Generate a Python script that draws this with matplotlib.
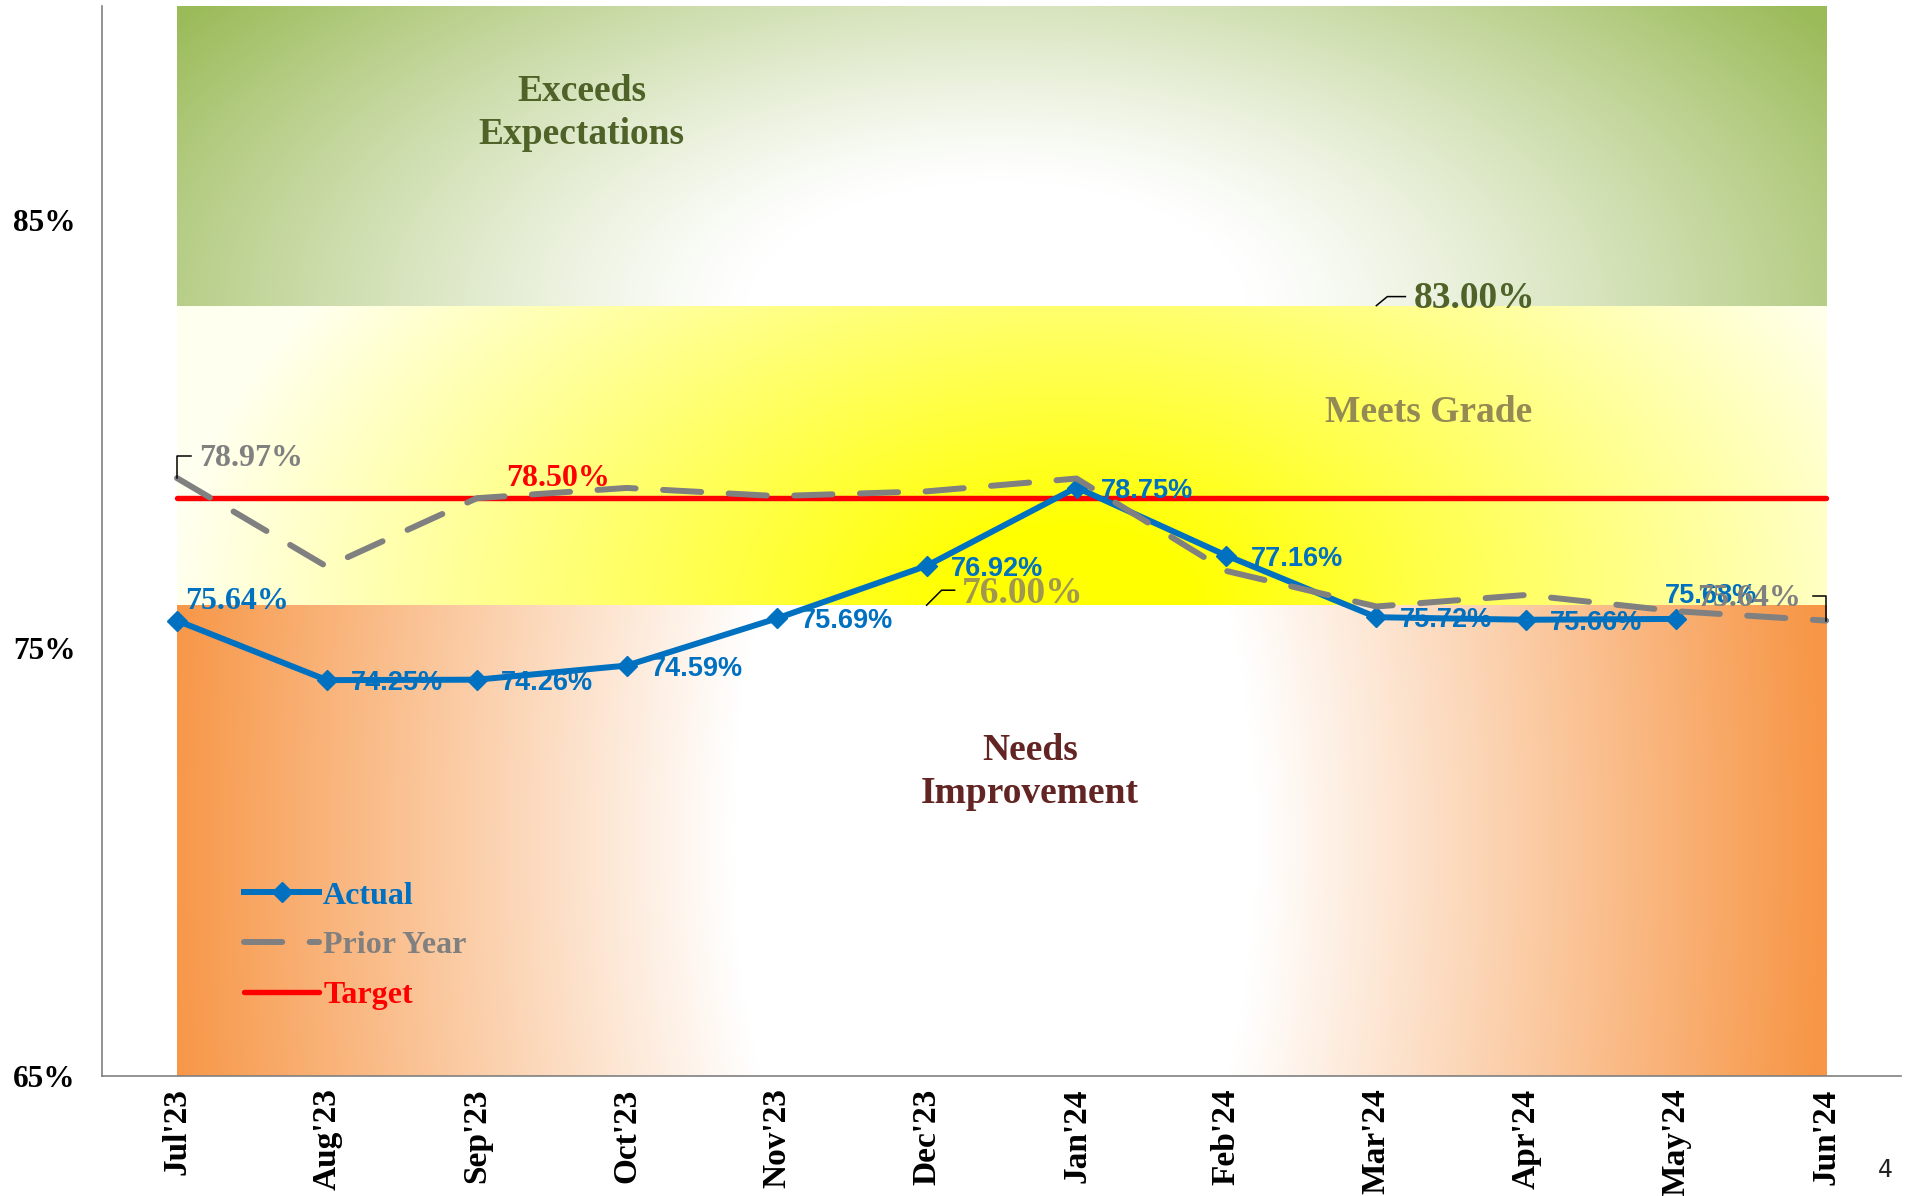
import numpy as np
import matplotlib
matplotlib.use("Agg")
import matplotlib.pyplot as plt
from matplotlib.colors import to_rgb

# dados
meses = ["Jul'23", "Aug'23", "Sep'23", "Oct'23", "Nov'23", "Dec'23",
         "Jan'24", "Feb'24", "Mar'24", "Apr'24", "May'24", "Jun'24"]
actual = [75.64, 74.25, 74.26, 74.59, 75.69, 76.92, 78.75, 77.16, 75.72, 75.66, 75.68]
prior_year = [78.97, 76.90, 78.50, 78.74, 78.55, 78.66, 78.96, 76.80, 75.97, 76.24, 75.86, 75.64]
target = 78.50
band_edges = [65, 76, 83, 90]
band_names = ["Needs\nImprovement", "Meets Grade", "Exceeds\nExpectations"]
y_ticks = [65, 75, 85]

SERIF = "Liberation Serif"
SANS = "Liberation Sans"
BLUE = "#0070C0"
GRAY = "#808080"
RED = "#FF0000"

fig = plt.figure(figsize=(19.11, 11.96), dpi=100)
ax = fig.add_axes([0.0534, 0.1003, 0.9414, 0.8947])
ax.set_xlim(-0.5, 11.5)
ax.set_ylim(65, 90)

x = np.arange(len(meses))
x0, x1 = x[0], x[-1]

# pixels por unidade de dados
ppx = ax.bbox.width / 12.0
ppy = ax.bbox.height / 25.0


def faixa(lo, hi, cx, cy, ky, r0, r1, inner, outer, gamma=1.0):
    xs = np.linspace(x0, x1, 800)
    ys = np.linspace(lo, hi, 300)
    X, Y = np.meshgrid(xs, ys)
    d = np.hypot((X - cx) * ppx, (Y - cy) * ppy * ky)
    t = np.clip((d - r0) / (r1 - r0), 0, 1) ** gamma
    a = np.array(to_rgb(inner))
    b = np.array(to_rgb(outer))
    img = a * (1 - t)[..., None] + b * t[..., None]
    ax.imshow(img, extent=(x0, x1, lo, hi), origin="lower", aspect="auto",
              zorder=0, interpolation="bilinear")


# faixas com gradiente radial
faixa(band_edges[0], band_edges[1], 5.45, 70.5, 0.5, 262, 830, "white", "#F79646")
faixa(band_edges[1], band_edges[2], 5.96, band_edges[1], 1.6, 120, 900, "#FFFF00", "#FFFFF0")
faixa(band_edges[2], band_edges[3], 5.47, band_edges[2], 2.0, 250, 1000, "white", "#9BBB59", 1.2)
ax.set_xlim(-0.5, 11.5)
ax.set_ylim(65, 90)

# linhas
ax.plot([x0, x1], [target, target], color=RED, lw=3.9, solid_capstyle="round",
        zorder=2, label="Target")
ax.plot(x[:len(actual)], actual, color=BLUE, lw=4.3, marker="D", ms=10,
        zorder=3, label="Actual")
ax.plot(x, prior_year, color=GRAY, lw=4.3, dashes=(6.4, 4.6),
        dash_capstyle="round", zorder=4, label="Prior Year")

PT = 0.72  # px -> pt


def rotulo(txt, xy, dx, dy, ha="left", **kw):
    ax.annotate(txt, xy=xy, xytext=(dx * PT, dy * PT), textcoords="offset points",
                ha=ha, va="center", zorder=6, **kw)


def leader(xy, offs):
    bx, by = ax.transData.transform(xy)
    pts = ax.transData.inverted().transform([(bx + a, by + b) for a, b in offs])
    ax.plot(pts[:, 0], pts[:, 1], color="black", lw=1.1, zorder=5)


# rótulos Actual
for i, v in enumerate(actual):
    if i == 0:
        rotulo(f"{v:.2f}%", (i, v), 8, 19, color=BLUE, fontsize=23,
               family=SERIF, fontweight="bold")
    elif i == len(actual) - 1:
        rotulo(f"{v:.2f}%", (i, v), -11, 23, color=BLUE, fontsize=19.5,
               family=SANS, fontweight="bold")
    else:
        rotulo(f"{v:.2f}%", (i, v), 24, -3, color=BLUE, fontsize=19.5,
               family=SANS, fontweight="bold")

# rótulos Prior Year (primeiro e último)
rotulo(f"{prior_year[0]:.2f}%", (0, prior_year[0]), 22, 20, color=GRAY,
       fontsize=23, family=SERIF, fontweight="bold")
leader((0, prior_year[0]), [(0, 0), (0, 22), (14, 22)])
rotulo(f"{prior_year[-1]:.2f}%", (x1, prior_year[-1]), -25, 22, ha="right",
       color=GRAY, fontsize=23, family=SERIF, fontweight="bold")
leader((x1, prior_year[-1]), [(0, 0), (0, 25), (-13, 25)])

# rótulo Target
rotulo(f"{target:.2f}%", (2, target), 29, 20, color=RED, fontsize=23,
       family=SERIF, fontweight="bold")

# rótulos das faixas
rotulo(f"{band_edges[1]:.2f}%", (5, band_edges[1]), 35, 12, color="#A09850",
       fontsize=27, family=SERIF, fontweight="bold")
leader((5, band_edges[1]), [(0, 0), (15, 15), (28, 15)])
rotulo(f"{band_edges[2]:.2f}%", (8, band_edges[2]), 37, 7, color="#4F6228",
       fontsize=27, family=SERIF, fontweight="bold")
leader((8, band_edges[2]), [(0, 0), (11, 9), (29, 9)])

ax.text(5.69, 72.1, band_names[0], color="#632523", fontsize=27, family=SERIF,
        fontweight="bold", ha="center", va="center", linespacing=1.3, zorder=5)
ax.text(8.35, 80.5, band_names[1], color="#948A54", fontsize=27, family=SERIF,
        fontweight="bold", ha="center", va="center", zorder=5)
ax.text(2.70, 87.5, band_names[2], color="#4F6228", fontsize=27, family=SERIF,
        fontweight="bold", ha="center", va="center", linespacing=1.3, zorder=5)

# eixos
ax.set_yticks(y_ticks)
ax.set_yticklabels([f"{v}%" for v in y_ticks], family=SERIF, fontweight="bold",
                   fontsize=22.5)
ax.set_xticks(x)
ax.set_xticklabels(meses, rotation=90, family=SERIF, fontweight="bold",
                   fontsize=24, va="top", ha="center")
ax.tick_params(axis="y", length=0, pad=19)
ax.tick_params(axis="x", length=0, pad=9)
for s in ["top", "right"]:
    ax.spines[s].set_visible(False)
for s in ["left", "bottom"]:
    ax.spines[s].set_color("#808080")
    ax.spines[s].set_linewidth(1.2)

# legenda
h, l = ax.get_legend_handles_labels()
ordem = [l.index("Actual"), l.index("Prior Year"), l.index("Target")]
leg = ax.legend([h[i] for i in ordem], [l[i] for i in ordem], loc="upper left",
                bbox_to_anchor=(0.079, 0.182), frameon=False, borderpad=0,
                borderaxespad=0, handlelength=2.35, handletextpad=0.12,
                labelspacing=0.64, labelcolor="linecolor",
                prop={"family": SERIF, "weight": "bold", "size": 23})

fig.text(0.9905, 0.012, "4", fontsize=17, color="#222222", ha="right", va="bottom")

plt.savefig("out.png", dpi=100)
